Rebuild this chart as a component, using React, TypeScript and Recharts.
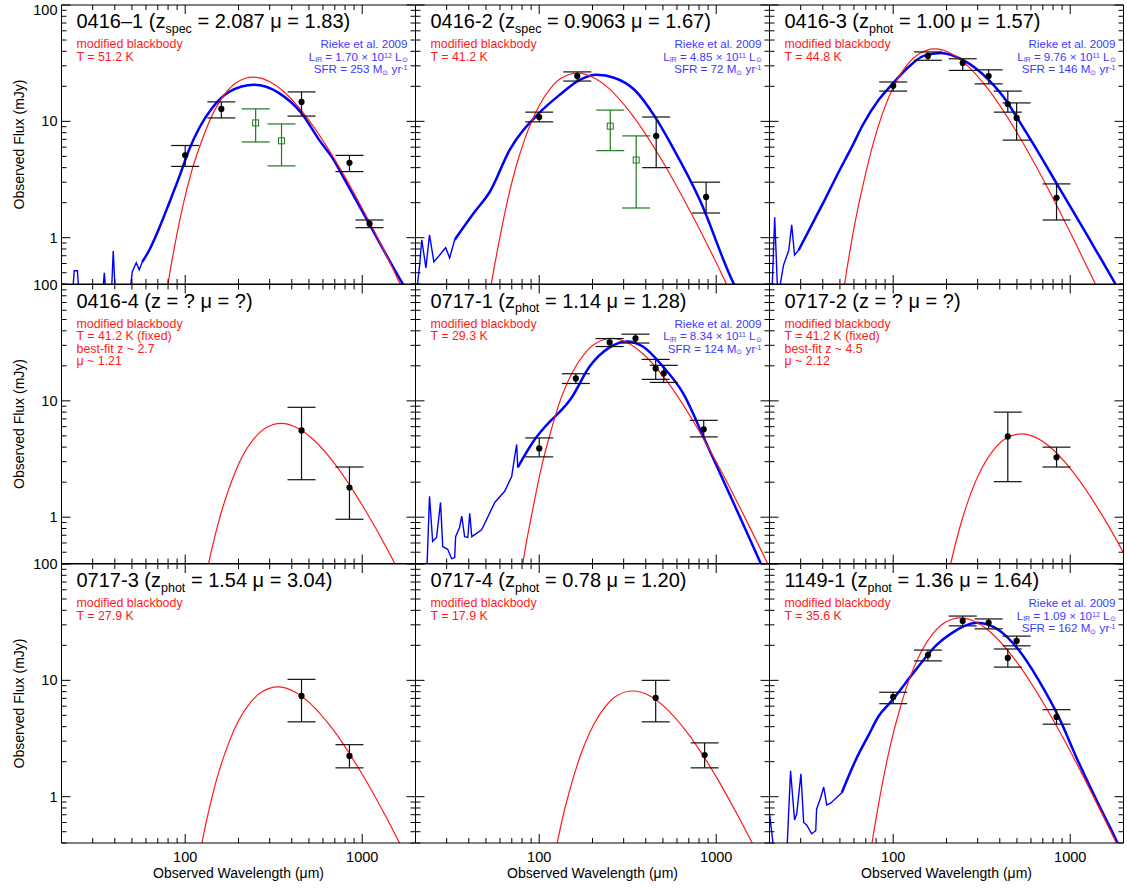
import React from 'react';
import { ComposedChart, Line, Scatter, ErrorBar, XAxis, YAxis } from 'recharts';

type Pt = [number, number];
type Obs = [number, number, number, number]; // wavelength, flux, lower, upper

const xTicks = [20, 30, 40, 50, 60, 70, 80, 90, 100, 200, 300, 400, 500, 600, 700, 800, 900, 1000, 2000];
const yTicks = [0.4, 0.5, 0.6, 0.7, 0.8, 0.9, 1, 2, 3, 4, 5, 6, 7, 8, 9, 10, 20, 30, 40, 50, 60, 70, 80, 90, 100];
const xMajor = [100, 1000];
const yMajor = [1, 10, 100];

// 0416-1
const red1: Pt[] = [[68, 0.08], [73, 0.17], [78, 0.32], [85, 0.69], [97, 1.88], [109, 3.78], [122, 6.35], [146, 12.3], [170, 17.7], [194, 21.5], [243, 24], [304, 21.7], [365, 17.7], [486, 10.8], [729, 4.23], [972, 1.94], [1458, 0.58], [1944, 0.23], [2430, 0.115]];
const pah1: Pt[] = [[20, 0.3], [23, 0.3], [23.6, 0.52], [24.6, 0.52], [25.2, 0.3], [34, 0.3], [34.9, 0.5], [35.9, 0.3], [38.2, 0.3], [39.2, 0.77], [40.4, 0.3], [48.3, 0.3], [50.2, 0.51], [52.9, 0.61], [55, 0.53], [57.2, 0.62]];
const blue1: Pt[] = [[57.2, 0.62], [62.6, 0.78], [71.3, 1.21], [81.2, 1.99], [92.5, 3.33], [105, 5.68], [120, 8.77], [142, 13], [177, 17.9], [245, 20.6], [339, 17.5], [453, 11.8], [572, 6.9], [676, 4.9], [811, 3.0], [1094, 1.32], [1680, 0.41], [2000, 0.265]];
const obs1: Obs[] = [[100, 5.1, 4.1, 6.2], [160, 12.8, 10.7, 14.7], [454, 14.7, 11.1, 17.9], [847, 4.4, 3.7, 5.1], [1100, 1.32, 1.22, 1.42]];
const green1: Obs[] = [[250, 9.7, 6.65, 12.8], [350, 6.8, 4.14, 9.5]];

// 0416-2
const red2: Pt[] = [[46, 0.086], [49.5, 0.18], [52.8, 0.35], [57.8, 0.75], [66, 2.04], [74, 4.09], [82.5, 6.9], [99, 13.3], [115.5, 19.1], [132, 23.3], [165, 26], [206, 23.5], [247.5, 19.2], [330, 11.7], [495, 4.58], [660, 2.1], [990, 0.63], [1320, 0.25], [1650, 0.12]];
const pah2: Pt[] = [[20.1, 0.3], [21.1, 0.58], [21.7, 0.96], [22.9, 0.55], [24, 1.06], [25.4, 0.62], [27.4, 0.71], [29.6, 0.82], [31.2, 0.67], [33.3, 0.96]];
const blue2: Pt[] = [[33.3, 0.96], [43.2, 1.67], [52.5, 2.47], [68.1, 5.68], [100, 11.8], [130.6, 16.9], [169.5, 22.7], [211, 25.1], [267, 23.6], [346, 18.6], [455, 10.7], [567, 6.0], [808, 2.11], [1270, 0.39], [1540, 0.24]];
const obs2: Obs[] = [[100, 10.9, 9.9, 12], [164, 24.5, 22.2, 26.6], [458, 7.5, 4.0, 10.9], [877, 2.24, 1.63, 3.0]];
const green2: Obs[] = [[252, 9.1, 5.6, 12.5], [353, 4.65, 1.8, 7.5]];

// 0416-3
const red3: Pt[] = [[48, 0.14], [51.6, 0.3], [55, 0.56], [60, 1.21], [69, 3.29], [77.4, 6.6], [86, 11.1], [103, 21.5], [120, 30.8], [138, 37.5], [172, 41.9], [215, 37.9], [258, 30.9], [344, 18.9], [516, 7.38], [688, 3.38], [1032, 1.01], [1376, 0.41], [1720, 0.2]];
const pah3: Pt[] = [[19.8, 0.3], [20.6, 0.3], [21.4, 1.5], [22.3, 0.3], [24, 0.58], [25.7, 0.78], [26.7, 1.29], [27.7, 0.71], [29.2, 0.78]];
const blue3: Pt[] = [[29.2, 0.78], [34.2, 1.24], [40.5, 2.03], [49.2, 3.67], [58.3, 6.0], [67.3, 9.3], [82.8, 15.3], [98, 20.6], [122, 29.3], [148.6, 36.5], [186, 38.7], [247, 33.7], [346, 22.7], [444, 14.4], [498, 10.9], [663, 5.36], [860, 2.73], [1270, 1.0], [1800, 0.4], [2000, 0.3]];
const obs3: Obs[] = [[100, 20.2, 18.2, 21.8], [157, 36.5, 33.5, 39.5], [247, 31.8, 27.4, 34.5], [346, 24.5, 21, 27.7], [444, 14.1, 12, 18.2], [498, 10.7, 6.9, 14.4], [837, 2.2, 1.42, 2.9]];

// 0416-4
const red4: Pt[] = [[122, 0.18], [140, 0.5], [157, 1.0], [175, 1.69], [209, 3.28], [244, 4.71], [279, 5.73], [349, 6.4], [436, 5.79], [524, 4.72], [698, 2.89], [1047, 1.13], [1396, 0.52], [2094, 0.15]];
const obs4: Obs[] = [[454, 5.57, 2.1, 8.8], [847, 1.8, 0.96, 2.7]];

// 0717-1
const red5: Pt[] = [[72, 0.11], [77, 0.24], [82, 0.46], [90, 0.99], [103, 2.7], [116, 5.4], [128.5, 9.1], [154, 17.6], [180, 25.3], [206, 30.8], [257, 34.4], [321, 31.1], [385, 25.4], [514, 15.5], [771, 6.05], [1028, 2.77], [1542, 0.83], [2056, 0.34]];
const pah5: Pt[] = [[20.3, 0.3], [23.1, 0.3], [24, 1.51], [25, 0.62], [26.3, 0.67], [27.7, 1.34], [28.5, 0.56], [30.4, 0.53], [32, 0.44], [33.3, 0.45], [33.7, 0.68], [35.5, 0.82], [36.5, 1.02], [37.9, 0.68], [39.5, 0.67], [40.5, 1.08], [41.6, 0.68], [47.3, 0.78], [56.1, 1.34], [63.8, 1.67], [69.9, 2.24], [72.7, 3.33], [74.6, 4.22], [75.6, 2.68]];
const blue5: Pt[] = [[75.6, 2.68], [94.3, 4.66], [104.6, 5.68], [152.6, 10.7], [193, 19.8], [250, 28.8], [312, 32.4], [385, 29.3], [499, 19.8], [646, 11.8], [860, 4.66], [1240, 1.37], [1760, 0.42], [2000, 0.27]];
const obs5: Obs[] = [[100, 3.9, 3.3, 4.8], [161, 15.6, 14.1, 17.1], [250, 31.8, 29.3, 34.3], [350, 34.4, 31.4, 37.4], [455, 19, 15.3, 22.7], [505, 17.2, 14.4, 20.2], [850, 5.7, 4.9, 6.8]];

// 0717-2
const red6: Pt[] = [[185, 0.15], [212, 0.41], [238, 0.82], [265, 1.38], [318, 2.67], [371, 3.83], [424, 4.66], [530, 5.2], [662, 4.71], [795, 3.84], [1060, 2.35], [1590, 0.92], [2120, 0.42]];
const obs6: Obs[] = [[444, 4.95, 2.02, 8.0], [837, 3.27, 2.7, 4.0]];

// 0717-3
const red7: Pt[] = [[100, 0.062], [107, 0.117], [117, 0.25], [134, 0.69], [150, 1.38], [167, 2.32], [200, 4.5], [234, 6.46], [267, 7.85], [334, 8.8], [418, 7.94], [501, 6.47], [668, 3.96], [1002, 1.55], [1336, 0.71], [2004, 0.21]];
const obs7: Obs[] = [[454, 7.35, 4.4, 10.2], [847, 2.24, 1.77, 2.8]];

// 0717-4
const red8: Pt[] = [[101, 0.057], [108, 0.108], [118, 0.234], [135, 0.64], [152, 1.28], [169, 2.15], [203, 4.16], [237, 5.97], [270, 7.26], [338, 8.1], [423, 7.35], [507, 5.98], [676, 3.66], [1014, 1.43], [1352, 0.65], [2028, 0.195]];
const obs8: Obs[] = [[455, 7.06, 4.4, 10], [860, 2.28, 1.77, 2.9]];

// 1149-1
const red9: Pt[] = [[67, 0.11], [72, 0.24], [77, 0.46], [84, 0.99], [96, 2.7], [108, 5.4], [120, 9.1], [144, 17.6], [168, 25.3], [192, 30.8], [240, 34.4], [300, 31.1], [360, 25.4], [480, 15.5], [720, 6.05], [960, 2.77], [1440, 0.83], [1920, 0.34]];
const pah9: Pt[] = [[19.8, 0.82], [21.4, 0.3], [25, 0.3], [26.3, 1.67], [27.7, 0.63], [28.5, 0.71], [30.1, 1.57], [31.2, 0.6], [32.5, 0.57], [34.6, 0.48], [36.5, 0.51], [36.9, 0.78], [38.9, 0.98], [40.5, 1.21], [42.1, 0.85], [44.3, 0.88], [51.2, 1.08]];
const blue9: Pt[] = [[51.2, 1.08], [61.4, 2.07], [72.7, 3.4], [82.8, 4.94], [96.7, 6.5], [134, 12.3], [176, 20.2], [211, 25.1], [296, 31.2], [394, 27.1], [512, 18.2], [664, 10], [860, 4.85], [1100, 2.07], [1450, 0.85], [1850, 0.4], [2000, 0.3]];
const obs9: Obs[] = [[100, 7.2, 6.3, 7.9], [157, 16.5, 14.7, 18.2], [247, 32.4, 29.4, 35.7], [346, 31.2, 27.7, 33.7], [444, 15.6, 13, 18.6], [498, 21.8, 19.8, 24], [837, 4.85, 4.2, 5.6]];

const colX = [61.5, 415.5, 769.5];
const rowY = [5, 284.5, 564];
const PW = 354;
const PH = 279;
const PAGE_W = 1127;
const PAGE_H = 888;

const FONT = '"Liberation Sans", Arial, Helvetica, sans-serif';
const RED = '#ff1a1a';
const BLUE = '#0000ff';
const BLUE_TXT = '#3a3aff';
const GREEN = '#1d7a1d';

interface Panel {
  col: number;
  row: number;
  red: Pt[];
  blue?: Pt[];
  pah?: Pt[];
  obs: Obs[];
  green?: Obs[];
  name: string;
  zKind?: string;
  z?: string;
  mu?: string;
  redText: string[];
  rieke?: { lir: string; exp: string; sfr: string };
}

const panels: Panel[] = [
  { col: 0, row: 0, red: red1, blue: blue1, pah: pah1, obs: obs1, green: green1, name: '0416–1', zKind: 'spec', z: '2.087', mu: '1.83', redText: ['modified blackbody', 'T = 51.2 K'], rieke: { lir: '1.70', exp: '12', sfr: '253' } },
  { col: 1, row: 0, red: red2, blue: blue2, pah: pah2, obs: obs2, green: green2, name: '0416-2', zKind: 'spec', z: '0.9063', mu: '1.67', redText: ['modified blackbody', 'T = 41.2 K'], rieke: { lir: '4.85', exp: '11', sfr: '72' } },
  { col: 2, row: 0, red: red3, blue: blue3, pah: pah3, obs: obs3, name: '0416-3', zKind: 'phot', z: '1.00', mu: '1.57', redText: ['modified blackbody', 'T = 44.8 K'], rieke: { lir: '9.76', exp: '11', sfr: '146' } },
  { col: 0, row: 1, red: red4, obs: obs4, name: '0416-4', redText: ['modified blackbody', 'T = 41.2 K (fixed)', 'best-fit z ~ 2.7', 'μ ~ 1.21'] },
  { col: 1, row: 1, red: red5, blue: blue5, pah: pah5, obs: obs5, name: '0717-1', zKind: 'phot', z: '1.14', mu: '1.28', redText: ['modified blackbody', 'T = 29.3 K'], rieke: { lir: '8.34', exp: '11', sfr: '124' } },
  { col: 2, row: 1, red: red6, obs: obs6, name: '0717-2', redText: ['modified blackbody', 'T = 41.2 K (fixed)', 'best-fit z ~ 4.5', 'μ ~ 2.12'] },
  { col: 0, row: 2, red: red7, obs: obs7, name: '0717-3', zKind: 'phot', z: '1.54', mu: '3.04', redText: ['modified blackbody', 'T = 27.9 K'] },
  { col: 1, row: 2, red: red8, obs: obs8, name: '0717-4', zKind: 'phot', z: '0.78', mu: '1.20', redText: ['modified blackbody', 'T = 17.9 K'] },
  { col: 2, row: 2, red: red9, blue: blue9, pah: pah9, obs: obs9, name: '1149-1', zKind: 'phot', z: '1.36', mu: '1.64', redText: ['modified blackbody', 'T = 35.6 K'], rieke: { lir: '1.09', exp: '12', sfr: '162' } },
];

const toLine = (pts: Pt[]) => pts.map(([x, y]) => ({ x, y }));
const toObs = (pts: Obs[]) => pts.map(([x, y, lo, hi]) => ({ x, y, err: [y - lo, hi - y] }));

const dot = (p: any) => <circle cx={p.cx} cy={p.cy} r={3.1} fill="#000" />;
const square = (p: any) => <rect x={p.cx - 3} y={p.cy - 3} width={6} height={6} fill="none" stroke={GREEN} strokeWidth={1} />;

const tickFor = (side: 'bottom' | 'top' | 'left' | 'right', showLabel: boolean, firstRow = false) => (props: any) => {
  const { x, y, payload } = props;
  const v = payload.value;
  const isX = side === 'bottom' || side === 'top';
  const major = (isX ? xMajor : yMajor).includes(v);
  const len = major ? 9 : 5;
  let x2 = x;
  let y2 = y;
  if (side === 'bottom') y2 = y - len;
  if (side === 'top') y2 = y + len;
  if (side === 'left') x2 = x + len;
  if (side === 'right') x2 = x - len;
  // the top "100" label of the first row sits just below its tick
  const dy = firstRow && v === 100 ? 10 : 5;
  return (
    <g>
      <line x1={x} y1={y} x2={x2} y2={y2} stroke="#000" strokeWidth={1} />
      {showLabel && major && side === 'bottom' && (
        <text x={x} y={y + 19} textAnchor="middle" fontSize={14.5} fontFamily={FONT} fill="#000">{v}</text>
      )}
      {showLabel && major && side === 'left' && (
        <text x={x - 4} y={y + dy} textAnchor="end" fontSize={14.5} fontFamily={FONT} fill="#000">{v}</text>
      )}
    </g>
  );
};

const PanelChart = ({ p }: { p: Panel }) => {
  const left = colX[p.col];
  const top = rowY[p.row];
  // axes take 1px each, so the margins are 1px smaller
  const margin = { left: left - 1, top: top - 1, right: PAGE_W - left - PW - 1, bottom: PAGE_H - top - PH - 1 };
  const axisCommon = { type: 'number' as const, scale: 'log' as const, allowDataOverflow: true, interval: 0 as const, tickSize: 0, tickMargin: 0, axisLine: { stroke: '#000', strokeWidth: 1 } };
  return (
    <div style={{ position: 'absolute', left: 0, top: 0 }}>
      <ComposedChart width={PAGE_W} height={PAGE_H} margin={margin}>
        <XAxis {...axisCommon} xAxisId="b" dataKey="x" orientation="bottom" height={1} domain={[20, 2000]} ticks={xTicks} tick={tickFor('bottom', p.row === 2)} />
        <XAxis {...axisCommon} xAxisId="t" dataKey="x" orientation="top" height={1} domain={[20, 2000]} ticks={xTicks} tick={tickFor('top', false)} />
        <YAxis {...axisCommon} yAxisId="l" dataKey="y" orientation="left" width={1} domain={[0.4, 100]} ticks={yTicks} tick={tickFor('left', p.col === 0, p.row === 0)} />
        <YAxis {...axisCommon} yAxisId="r" dataKey="y" orientation="right" width={1} domain={[0.4, 100]} ticks={yTicks} tick={tickFor('right', false)} />
        {p.pah && (
          <Line xAxisId="b" yAxisId="l" data={toLine(p.pah)} dataKey="y" type="linear" stroke={BLUE} strokeWidth={1.4} dot={false} isAnimationActive={false} />
        )}
        {p.blue && (
          <Line xAxisId="b" yAxisId="l" data={toLine(p.blue)} dataKey="y" type="monotone" stroke={BLUE} strokeWidth={2.5} dot={false} isAnimationActive={false} />
        )}
        <Line xAxisId="b" yAxisId="l" data={toLine(p.red)} dataKey="y" type="monotone" stroke={RED} strokeWidth={1.2} dot={false} isAnimationActive={false} />
        {p.green && (
          <Scatter xAxisId="b" yAxisId="l" data={toObs(p.green)} dataKey="y" shape={square} isAnimationActive={false}>
            <ErrorBar dataKey="err" direction="y" width={14} stroke={GREEN} strokeWidth={1.2} />
          </Scatter>
        )}
        <Scatter xAxisId="b" yAxisId="l" data={toObs(p.obs)} dataKey="y" shape={dot} isAnimationActive={false}>
          <ErrorBar dataKey="err" direction="y" width={14} stroke="#111" strokeWidth={1.2} />
        </Scatter>
      </ComposedChart>
    </div>
  );
};

const Annotations = () => (
  <svg width={PAGE_W} height={PAGE_H} style={{ position: 'absolute', left: 0, top: 0, pointerEvents: 'none' }} fontFamily={FONT}>
    {panels.map((p, i) => {
      const x0 = colX[p.col] + 15;
      const xr = colX[p.col] + PW - 8;
      const y0 = rowY[p.row];
      return (
        <g key={i}>
          {p.zKind ? (
            <text x={x0} y={y0 + 23} fontSize={20} fill="#000">
              {p.name} (z<tspan dy={4.5} fontSize={12.5}>{p.zKind}</tspan>
              <tspan dy={-4.5}>{` = ${p.z} μ = ${p.mu})`}</tspan>
            </text>
          ) : (
            <text x={x0} y={y0 + 23} fontSize={20} fill="#000">{`${p.name} (z = ? μ = ?)`}</text>
          )}
          {p.redText.map((t, k) => (
            <text key={k} x={x0} y={y0 + 43 + k * 12.6} fontSize={12.4} fill={RED}>{t}</text>
          ))}
          {p.rieke && (
            <g fill={BLUE_TXT} fontSize={11.6} textAnchor="end">
              <text x={xr} y={y0 + 43}>Rieke et al. 2009</text>
              <text x={xr} y={y0 + 55.5}>
                L<tspan dy={1.5} fontSize={7}>IR</tspan>
                <tspan dy={-1.5}>{` = ${p.rieke.lir} × 10`}</tspan>
                <tspan dy={-3} fontSize={7}>{p.rieke.exp}</tspan>
                <tspan dy={3}> L</tspan>
                <tspan dy={1.5} fontSize={7}>⊙</tspan>
              </text>
              <text x={xr} y={y0 + 68}>
                {`SFR = ${p.rieke.sfr} M`}
                <tspan dy={1.5} fontSize={7}>⊙</tspan>
                <tspan dy={-1.5}> yr</tspan>
                <tspan dy={-3} fontSize={7}>-1</tspan>
              </text>
            </g>
          )}
        </g>
      );
    })}
    {rowY.map((y, i) => (
      <text key={`yl${i}`} transform={`translate(24, ${y + PH / 2}) rotate(-90)`} textAnchor="middle" fontSize={14} fill="#000">Observed Flux (mJy)</text>
    ))}
    {colX.map((x, i) => (
      <text key={`xl${i}`} x={x + PW / 2} y={878} textAnchor="middle" fontSize={14} fill="#000">Observed Wavelength (μm)</text>
    ))}
  </svg>
);

export default function App() {
  return (
    <div style={{ position: 'absolute', left: 0, top: 0, width: PAGE_W, height: PAGE_H, background: '#fff' }}>
      {panels.map((p, i) => (
        <PanelChart key={i} p={p} />
      ))}
      <Annotations />
    </div>
  );
}
